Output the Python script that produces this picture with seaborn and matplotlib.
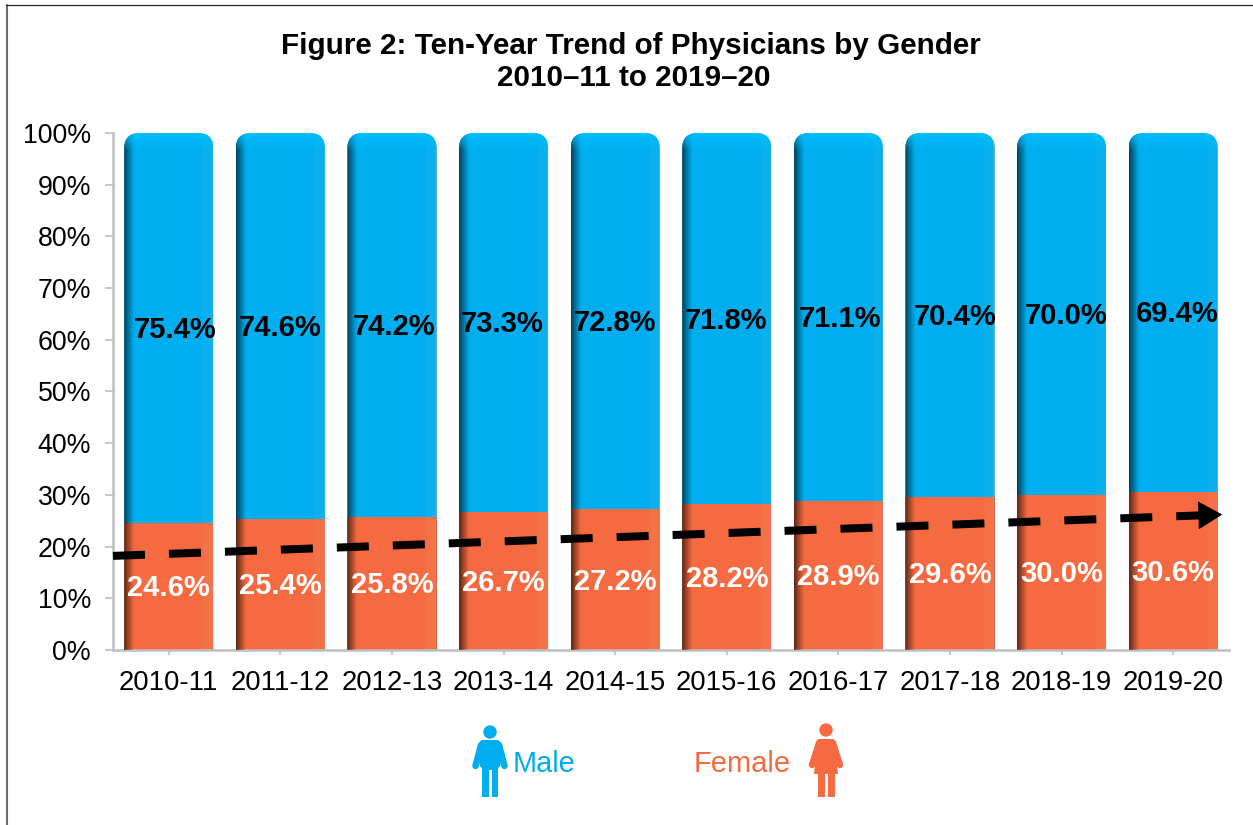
import matplotlib
matplotlib.use("Agg")
import matplotlib.pyplot as plt
from matplotlib.patches import FancyBboxPatch, Circle, Polygon, Rectangle
from matplotlib.lines import Line2D
import numpy as np
import pandas as pd
import seaborn as sns

# Values
years = ["2010-11", "2011-12", "2012-13", "2013-14", "2014-15",
         "2015-16", "2016-17", "2017-18", "2018-19", "2019-20"]
male = [75.4, 74.6, 74.2, 73.3, 72.8, 71.8, 71.1, 70.4, 70.0, 69.4]
female = [24.6, 25.4, 25.8, 26.7, 27.2, 28.2, 28.9, 29.6, 30.0, 30.6]
trend_x = [-0.5, 9.44]
trend_y = [18.2, 26.2]

BLUE = "#00AEEF"
ORANGE = "#F56A40"
GREY = "#BFBFBF"

sns.set_theme(style="white")
plt.rcParams["font.family"] = ["Liberation Sans", "DejaVu Sans"]

df = pd.DataFrame({"year": years, "male": male, "female": female})
df["total"] = df["male"] + df["female"]

W, H = 1253, 825
fig = plt.figure(figsize=(W / 100, H / 100), dpi=100)
ax = fig.add_axes([113 / W, 1 - 650 / H, (1229 - 113) / W, (650 - 133) / H])

# stacked look: full height bar behind, female on top of it
sns.barplot(data=df, x="year", y="total", color=BLUE, saturation=1, width=0.8,
            linewidth=0, ax=ax)
n_back = len(ax.patches)
sns.barplot(data=df, x="year", y="female", color=ORANGE, saturation=1, width=0.8,
            linewidth=0, ax=ax)

ax.set_xlim(-0.5, 9.5)
ax.set_ylim(0, 100)
ax.set_xlabel("")
ax.set_ylabel("")
ax.set_yticks(range(0, 101, 10))
ax.set_yticklabels([f"{v}%" for v in range(0, 101, 10)])
ax.tick_params(axis="y", labelsize=19.3, length=5.8, width=1.2, color=GREY,
               labelcolor="black", left=True, pad=10)
ax.tick_params(axis="x", labelsize=19.8, length=3.6, width=1.2, color=GREY,
               labelcolor="black", bottom=True, pad=11)
for side in ["top", "right"]:
    ax.spines[side].set_visible(False)
for side in ["left", "bottom"]:
    ax.spines[side].set_color(GREY)
    ax.spines[side].set_linewidth(1.8)

# shading across each bar width
pos = np.linspace(0, 1, 200)
shade = np.zeros((1, 200, 4))
shade[0, :, :3] = np.where(pos[:, None] > 0.5, 1.0, 0.0)
shade[0, :, 3] = np.clip(0.62 * (1 - pos / 0.11), 0, None)
shade[0, :, 3] += 0.05 * np.clip((pos - 0.85) / 0.05, 0, 1)
shade[0, pos > 0.985, :3] = 0.35
shade[0, pos > 0.985, 3] = 0.35

top_shade = np.zeros((30, 1, 4))
top_shade[:, 0, :3] = [0.0, 0.75, 1.0]
top_shade[:, 0, 3] = np.linspace(0.9, 0, 30)

for i, bar in enumerate(ax.patches[:n_back]):
    x0, w, h = bar.get_x(), bar.get_width(), bar.get_height()
    # rounded top only, the base of the box hangs below the axis
    clip = FancyBboxPatch((x0 + 0.14, -10), w - 0.28, h + 10 - 3.02,
                          boxstyle="round,pad=0.14,rounding_size=0.14",
                          mutation_aspect=21.6, transform=ax.transData,
                          facecolor="none", edgecolor="none")
    ax.add_patch(clip)
    bar.set_clip_path(clip)
    im = ax.imshow(shade, extent=(x0, x0 + w, 0, h), aspect="auto", zorder=3)
    im.set_clip_path(clip)
    im2 = ax.imshow(top_shade, extent=(x0, x0 + w, h - 3.5, h), aspect="auto", zorder=3)
    im2.set_clip_path(clip)
ax.set_xlim(-0.5, 9.5)
ax.set_ylim(0, 100)

# value labels centred in each segment
male_shift = [6, 0, 2, -1, 0, -1, 2, 5, 5, 4]
for i in range(len(years)):
    ax.annotate(f"{male[i]:.1f}%", (i, female[i] + male[i] / 2),
                xytext=(male_shift[i] * 0.72, -1.4), textcoords="offset points",
                ha="center", va="center", fontsize=21, fontweight="bold",
                color="black", zorder=6)
    ax.annotate(f"{female[i]:.1f}%", (i, female[i] / 2),
                xytext=(0, -1.4), textcoords="offset points",
                ha="center", va="center", fontsize=21, fontweight="bold",
                color="white", zorder=6)

# dashed trend arrow
ax.plot(trend_x, trend_y, color="black", lw=5.76, linestyle=(0, (4, 3)),
        dash_capstyle="butt", zorder=5, clip_on=False)
ax.annotate("", xy=(9.44, trend_y[1]), xytext=(9.2, trend_y[1] - 0.17),
            arrowprops=dict(arrowstyle="-|>,head_length=0.86,head_width=0.5",
                            color="black", lw=0, shrinkA=0, shrinkB=0,
                            mutation_scale=20), zorder=5)

# pixel coordinate layers for border, title and the legend figures
ov = fig.add_axes([0, 0, 1, 1], zorder=-1)
ov.set_xlim(0, W)
ov.set_ylim(H, 0)
ov.axis("off")
ov.add_line(Line2D([6.5, 6.5], [H, 5], color="#6E6E6E", lw=1.5))
ov.add_line(Line2D([6, W], [5, 5], color="#262626", lw=0.9))
top = fig.add_axes([0, 0, 1, 1], zorder=5)
top.set_xlim(0, W)
top.set_ylim(H, 0)
top.axis("off")
top.patch.set_alpha(0)
top.text(631, 46, "Figure 2: Ten-Year Trend of Physicians by Gender",
         ha="center", va="center", fontsize=21.3, fontweight="bold", color="black")
top.text(634, 78, "2010\u201311 to 2019\u201320",
         ha="center", va="center", fontsize=21.3, fontweight="bold", color="black")
top.text(513, 764, "Male", ha="left", va="center", fontsize=20.8, color=BLUE)
top.text(791, 764, "Female", ha="right", va="center", fontsize=21, color=ORANGE)


def limb(x0, y0, x1, y1, color, width):
    top.add_line(Line2D([x0, x1], [y0, y1], color=color, lw=width * 0.72,
                        solid_capstyle="round"))


# male figure
top.add_patch(Circle((490, 732), 6.7, color=BLUE, lw=0))
top.add_patch(FancyBboxPatch((479.5, 740), 21, 28, boxstyle="round,pad=0,rounding_size=4",
                             color=BLUE, lw=0))
top.add_patch(Polygon([(482, 760), (498, 760), (498, 770), (482, 770)], color=BLUE, lw=0))
limb(481, 745, 475.5, 766, BLUE, 6.5)
limb(499, 745, 504.5, 766, BLUE, 6.5)
top.add_patch(Rectangle((482, 766), 6.5, 31, color=BLUE, lw=0))
top.add_patch(Rectangle((491.5, 766), 6.5, 31, color=BLUE, lw=0))

# female figure
top.add_patch(Circle((826, 730), 6.7, color=ORANGE, lw=0))
top.add_patch(Polygon([(818, 739), (834, 739), (838, 774), (814, 774)], color=ORANGE, lw=0))
limb(819, 743, 812, 765, ORANGE, 6.5)
limb(833, 743, 840, 765, ORANGE, 6.5)
top.add_patch(Rectangle((818, 772), 7, 25, color=ORANGE, lw=0))
top.add_patch(Rectangle((828, 772), 7, 25, color=ORANGE, lw=0))

fig.savefig("out.png", dpi=100, facecolor="white")
